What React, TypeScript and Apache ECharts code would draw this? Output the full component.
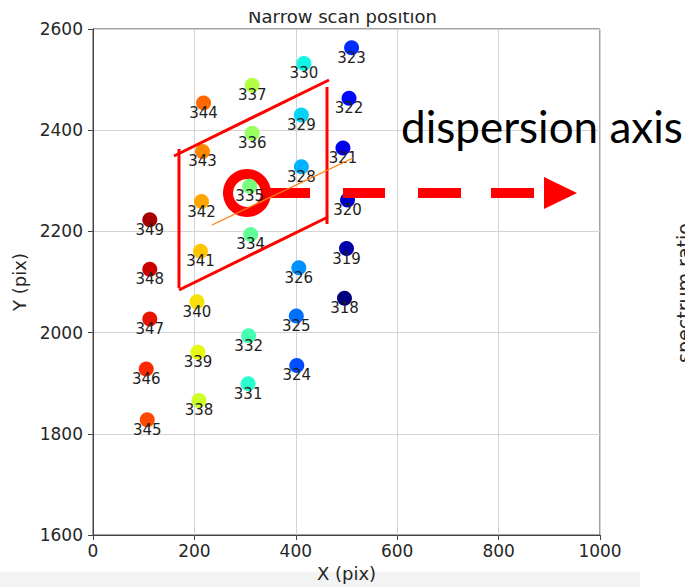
import React, { useEffect, useRef } from "react";
import * as echarts from "echarts";

// Scan position ids and their (X, Y) pixel positions
const ids = [318, 319, 320, 321, 322, 323, 324, 325, 326, 328, 329, 330, 331, 332, 334, 335, 336, 337, 338, 339, 340, 341, 342, 343, 344, 345, 346, 347, 348, 349];
const xs = [496, 500, 502, 493, 505, 510, 402, 401, 406, 411, 411, 416, 306, 307, 311, 309, 314, 314, 209, 207, 205, 212, 214, 216, 218, 107, 105, 112, 112, 112];
const ys = [2068, 2166, 2262, 2365, 2463, 2563, 1935, 2033, 2128, 2328, 2430, 2532, 1899, 1994, 2194, 2289, 2394, 2489, 1866, 1961, 2061, 2161, 2259, 2358, 2454, 1828, 1928, 2027, 2125, 2223];

const xRange = { min: 0, max: 1000, interval: 200 };
const yRange = { min: 1600, max: 2600, interval: 200 };

const titleText = "Narrow scan position";
const xName = "X (pix)";
const yName = "Y (pix)";
const noteText = "dispersion axis";
const sideText = "spectrum ratio";

// jet colormap stops
const jet = [
  "#00007f", "#0000c8", "#0000ff", "#0040ff", "#0080ff", "#00bfff", "#14ffe2", "#48ffaf", "#7bff7b",
  "#afff48", "#e2ff14", "#ffd200", "#ff9700", "#ff5c00", "#ff2100", "#c80000", "#7f0000",
];
const colorScaleMax = 30;

const FONT = "DejaVu Sans";
const RED = "#ff0000";

export default function App() {
  const ref = useRef<HTMLDivElement>(null);
  useEffect(() => {
    if (!ref.current) return;
    const chart = echarts.init(ref.current, undefined, { renderer: "svg" });
    const data = ids.map((id, i) => [xs[i], ys[i], i, id]);
    const line = (x1: number, y1: number, x2: number, y2: number, w = 3, c = RED) => ({
      type: "line",
      z: 10,
      silent: true,
      shape: { x1, y1, x2, y2 },
      style: { stroke: c, lineWidth: w },
    });
    const bar = (x: number, w: number) => ({
      type: "rect",
      z: 10,
      silent: true,
      shape: { x, y: 188, width: w, height: 10 },
      style: { fill: RED },
    });
    const plain = (v: number) => String(v);
    chart.setOption({
      animation: false,
      backgroundColor: "#ffffff",
      title: {
        text: titleText,
        left: "center",
        top: 7,
        padding: 0,
        textStyle: { fontFamily: FONT, fontSize: 18, fontWeight: "normal", color: "#262626" },
      },
      grid: { left: 93, right: 85, top: 29, bottom: 50, show: true, borderColor: "#444", borderWidth: 1, backgroundColor: "transparent" },
      xAxis: {
        type: "value",
        z: 1,
        ...xRange,
        name: xName,
        nameLocation: "middle",
        nameGap: 29,
        nameTextStyle: { fontFamily: FONT, fontSize: 18, color: "#262626" },
        axisLine: { show: true, onZero: false, lineStyle: { color: "#444", width: 1 } },
        axisTick: { show: true, length: 5, lineStyle: { color: "#444" } },
        axisLabel: { fontFamily: FONT, fontSize: 17, color: "#262626", margin: 7, formatter: plain },
        splitLine: { show: true, lineStyle: { color: "#d3d3d3", width: 1 } },
      },
      yAxis: {
        type: "value",
        z: 1,
        ...yRange,
        name: yName,
        nameLocation: "middle",
        nameGap: 54,
        nameTextStyle: { fontFamily: FONT, fontSize: 18, color: "#262626" },
        axisLine: { show: true, onZero: false, lineStyle: { color: "#444", width: 1 } },
        axisTick: { show: true, length: 5, lineStyle: { color: "#444" } },
        axisLabel: { fontFamily: FONT, fontSize: 17, color: "#262626", margin: 10, formatter: plain },
        splitLine: { show: true, lineStyle: { color: "#d3d3d3", width: 1 } },
      },
      visualMap: {
        show: false,
        type: "continuous",
        dimension: 2,
        min: 0,
        max: colorScaleMax,
        inRange: { color: jet },
      },
      series: [
        {
          type: "scatter",
          z: 2,
          data,
          symbol: "circle",
          symbolSize: 15,
          itemStyle: { opacity: 1 },
          label: {
            show: true,
            position: "inside",
            offset: [0, 10],
            formatter: (p: any) => String(p.value[3]),
            fontFamily: FONT,
            fontSize: 15,
            color: "#1e1e1e",
          },
        },
      ],
      graphic: [
        { type: "rect", z: 0, silent: true, shape: { x: 0, y: 572, width: 640, height: 15 }, style: { fill: "#f3f3f3" } },
        // parallelogram
        line(174, 156, 329, 80),
        line(179, 149, 179, 288),
        line(179, 290, 328, 217),
        line(327, 87, 327, 224),
        // ring
        { type: "ring", z: 1.5, silent: true, shape: { cx: 247, cy: 193, r: 24, r0: 14 }, style: { fill: RED } },
        // dashed arrow
        bar(268, 42),
        bar(343, 42),
        bar(418, 43),
        bar(491, 43),
        { type: "polygon", z: 10, silent: true, shape: { points: [[544, 177], [577, 193], [544, 209]] }, style: { fill: RED } },
        line(212, 225, 353, 158, 1.3, "#ff7f0e"),
        {
          type: "text",
          z: 10,
          silent: true,
          x: 401,
          y: 126,
          style: { text: noteText, fontFamily: "Lato", fontSize: 44, fill: "#000", align: "left", verticalAlign: "middle" },
        },
        {
          type: "text",
          z: 10,
          silent: true,
          x: 684,
          y: 293,
          rotation: Math.PI / 2,
          style: { text: sideText, fontFamily: FONT, fontSize: 19, fill: "#262626", align: "center", verticalAlign: "middle" },
        },
        { type: "rect", z: 20, silent: true, shape: { x: 0, y: 0, width: 685, height: 12 }, style: { fill: "#ffffff" } },
      ],
    });
    return () => chart.dispose();
  }, []);
  return <div ref={ref} style={{ position: "fixed", left: 0, top: 0, width: 685, height: 587 }} />;
}
